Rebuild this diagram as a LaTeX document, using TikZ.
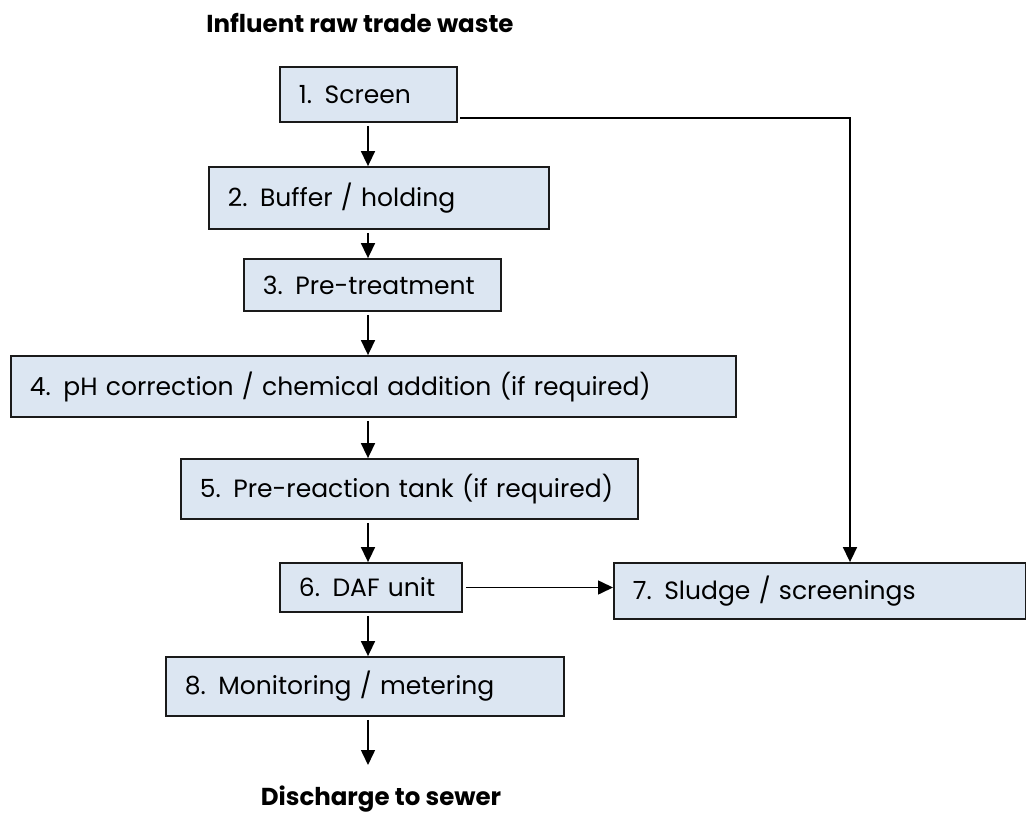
\documentclass[tikz,border=0pt]{standalone}
\usepackage{fontspec}
\setmainfont{Poppins}
\usetikzlibrary{arrows.meta}
\definecolor{boxfill}{HTML}{DCE6F2}
\definecolor{boxline}{HTML}{1A1A1A}
\tikzset{
  stage/.style={draw=boxline, fill=boxfill, line width=1.8pt, inner xsep=19pt, inner ysep=0pt,
    align=left, font=\fontsize{25}{28}\selectfont, anchor=west},
  flow/.style={line width=1.6pt, -{Triangle[length=15pt,width=14pt]}},
  title/.style={font=\bfseries\fontsize{24.5}{28}\selectfont}
}
\newcommand{\stagebox}[6]{% name, x-left, y-center, width, height, text
  \node[stage, text width=#4pt-38pt, minimum height=#5pt] (#1) at (#2,#3) {#6};}
\begin{document}
\begin{tikzpicture}[x=1pt,y=-1pt]
\useasboundingbox (0,0) rectangle (1026,821);
\node[title] (inf) at (360,23) {Influent raw trade waste};
\node[title] (dis) at (381,799) {Discharge to sewer};
\stagebox{s1}{279}{94.5}{177}{55}{1. Screen}
\stagebox{s2}{208}{198}{340}{62}{2. Buffer / holding}
\stagebox{s3}{243}{285}{257}{52}{3. Pre-treatment}
\stagebox{s4}{10}{386.5}{725}{61}{4. pH correction / chemical addition (if required)}
\stagebox{s5}{180}{489}{457}{60}{5. Pre-reaction tank (if required)}
\stagebox{s6}{279}{587.5}{182}{49}{6. DAF unit}
\stagebox{s7}{613}{591}{412}{56}{7. Sludge / screenings}
\stagebox{s8}{165}{686.5}{398}{59}{8. Monitoring / metering}
\coordinate (ax) at (368,0);
\coordinate (bx) at (850,118);
\coordinate (out) at (368,765);
\draw[flow, shorten <=3pt] (s1.south -| ax) -- (s2.north -| ax);
\draw[flow, shorten <=3pt] (s2.south -| ax) -- (s3.north -| ax);
\draw[flow, shorten <=3pt] (s3.south -| ax) -- (s4.north -| ax);
\draw[flow, shorten <=3pt] (s4.south -| ax) -- (s5.north -| ax);
\draw[flow, shorten <=3pt] (s5.south -| ax) -- (s6.north -| ax);
\draw[flow, shorten <=3pt] (s6.south -| ax) -- (s8.north -| ax);
\draw[flow, shorten <=3pt] (s8.south -| ax) -- (out);
\draw[flow, shorten <=3pt] (s6.east) -- (s6.east -| s7.west);
\draw[flow, shorten <=2pt] (s1.east |- bx) -- (bx) -- (bx |- s7.north);
\end{tikzpicture}
\end{document}
